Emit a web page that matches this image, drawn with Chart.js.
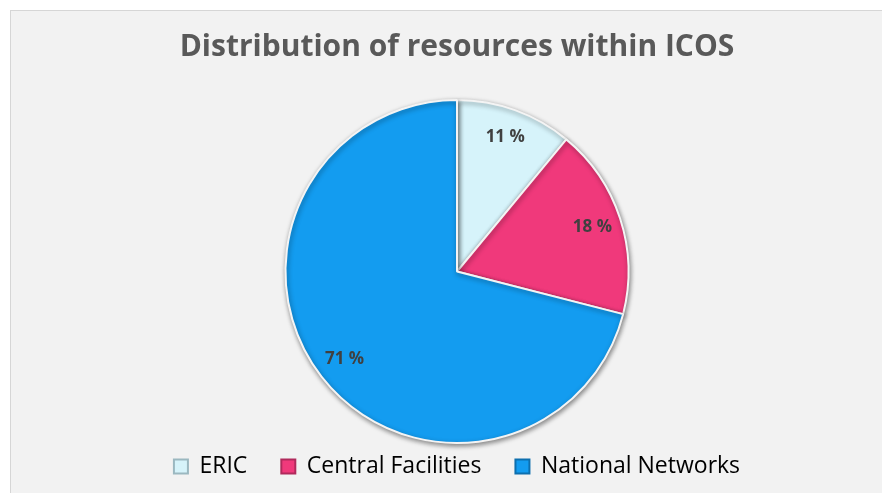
<!DOCTYPE html>
<html>
<head>
<meta charset="utf-8">
<script src="https://cdn.jsdelivr.net/npm/chart.js@4/dist/chart.umd.min.js"></script>
<style>
  html, body { margin: 0; padding: 0; background: #fff; }
  #frame {
    position: absolute; left: 10px; top: 10px; width: 880px; height: 490px;
    background: #f2f2f2; border-left: 1px solid #d6d6d6; border-top: 1px solid #d6d6d6;
  }
  #wrap { position: absolute; left: 0; top: 0; width: 882px; height: 493px; }
</style>
</head>
<body>
<div id="frame"></div>
<div id="wrap"><canvas id="chart" width="882" height="493"></canvas></div>
<script>
const categories = ["ERIC", "Central Facilities", "National Networks"];
const shares = [11, 18, 71];
const sliceColors = ["#d6f3fa", "#f0397b", "#139cf0"];
const edgeColors = ["#9bb8c0", "#b02a5c", "#0d6fae"];

const sliceLabels = {
  id: "sliceLabels",
  afterDatasetsDraw(chart) {
    const ctx = chart.ctx;
    const meta = chart.getDatasetMeta(0);
    ctx.save();
    ctx.font = "bold 17px 'Open Sans', sans-serif";
    ctx.fillStyle = "#404040";
    ctx.textAlign = "center";
    ctx.textBaseline = "middle";
    meta.data.forEach((arc, i) => {
      const mid = (arc.startAngle + arc.endAngle) / 2;
      const r = arc.outerRadius * 0.83;
      ctx.fillText(shares[i] + " %", arc.x + Math.cos(mid) * r, arc.y + Math.sin(mid) * r);
    });
    ctx.restore();
  }
};

const pieShadow = {
  id: "pieShadow",
  beforeDatasetsDraw(chart) {
    const ctx = chart.ctx;
    ctx.save();
    ctx.shadowColor = "rgba(0,0,0,0.45)";
    ctx.shadowBlur = 5;
    ctx.shadowOffsetX = 1;
    ctx.shadowOffsetY = 2;
  },
  afterDatasetsDraw(chart) {
    chart.ctx.restore();
  }
};

new Chart(document.getElementById("chart"), {
  type: "pie",
  data: {
    labels: categories,
    datasets: [{
      data: shares,
      backgroundColor: sliceColors,
      borderColor: "#f4f4f4",
      borderWidth: 2
    }]
  },
  options: {
    responsive: false,
    animation: false,
    layout: { padding: { left: 32, right: 0, top: 0, bottom: 5 } },
    plugins: {
      title: {
        display: true,
        text: "Distribution of resources within ICOS",
        color: "#595959",
        font: { family: "'Open Sans', sans-serif", size: 30, weight: "bold" },
        padding: { top: 29, bottom: 34 }
      },
      legend: {
        position: "bottom",
        labels: {
          color: "#595959",
          font: { family: "'Open Sans', sans-serif", size: 23 },
          boxWidth: 14,
          boxHeight: 14,
          padding: 11,
          generateLabels(chart) {
            // en spaces widen the gap between entries without touching vertical padding
            return categories.map((c, i) => ({
              text: i < categories.length - 1 ? c + "\u2002\u2002" : c,
              fillStyle: sliceColors[i],
              strokeStyle: edgeColors[i],
              lineWidth: 2,
              index: i
            }));
          }
        }
      },
      tooltip: { enabled: false }
    }
  },
  plugins: [pieShadow, sliceLabels]
});
</script>
</body>
</html>
